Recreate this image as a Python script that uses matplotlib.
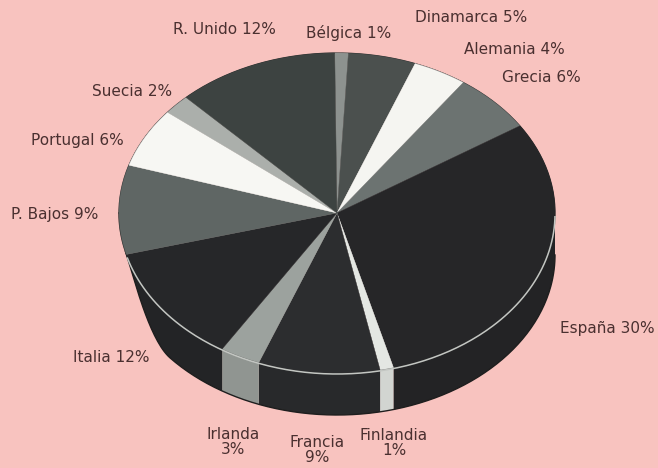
import numpy as np
import matplotlib
matplotlib.use("Agg")
import matplotlib.pyplot as plt
from matplotlib.patches import Polygon

# ---- data (clockwise from the top) ----
countries = ["Bélgica", "Dinamarca", "Alemania", "Grecia", "España", "Finlandia",
             "Francia", "Irlanda", "Italia", "P. Bajos", "Portugal", "Suecia", "R. Unido"]
shares = [1, 5, 4, 6, 30, 1, 9, 3, 12, 9, 6, 2, 12]
label_text = ["Bélgica 1%", "Dinamarca 5%", "Alemania 4%", "Grecia 6%", "España 30%",
              "Finlandia\n1%", "Francia\n9%", "Irlanda\n3%", "Italia 12%", "P. Bajos 9%",
              "Portugal 6%", "Suecia 2%", "R. Unido 12%"]

# ---- styles / layout ----
colors = ["#8d928f", "#4b504e", "#f5f5f1", "#6c7371", "#262628", "#e4e7e3",
          "#2c2d2f", "#9ca29e", "#262729", "#5f6664", "#f7f7f3", "#abafab", "#3d4341"]
label_pos = [(349, 33), (471, 18), (514, 50), (541, 78), (607, 328),
             (394, 443), (317, 450), (233, 442), (111, 357), (55, 214),
             (77, 140), (132, 91), (224, 29)]
bg = "#f8c3bf"
txt_col = "#4a3030"
cx, cy, rx, ry, depth = 337.0, 213.0, 218.0, 160.0, 42.0
start = 90.6

fig = plt.figure(figsize=(6.58, 4.68), dpi=100, facecolor=bg)
ax = fig.add_axes([0, 0, 1, 1])
ax.set_facecolor(bg)
ax.set_xlim(0, 658)
ax.set_ylim(468, 0)
ax.axis("off")

vals = np.array(shares, dtype=float)
ends = start - np.cumsum(vals) / vals.sum() * 360.0
begins = np.concatenate([[start], ends[:-1]])


def pt(t_deg, dy=0.0):
    t = np.radians(t_deg)
    return np.column_stack([cx + rx * np.cos(t), cy - ry * np.sin(t) + dy])


def wall(t_deg):
    # side-wall height; the wall fades out towards the far left edge
    u = np.clip((np.asarray(t_deg) + 166.0) / 26.0, 0, 1)
    return depth * u * u * (3 - 2 * u)


def darker(c, f=0.92):
    r, g, b = matplotlib.colors.to_rgb(c)
    return (r * f, g * f, b * f)

# side walls (front half: angles between -180 and 0)
for b, e, c in zip(begins, ends, colors):
    for shift in (0, -360, 360):
        lo, hi = e + shift, b + shift
        a0, a1 = max(lo, -180), min(hi, 0)
        if a1 > a0:
            ts = np.linspace(a0, a1, 60)
            top = pt(ts)
            tr = ts[::-1]
            bot = pt(tr)
            bot[:, 1] += wall(tr)
            ax.add_patch(Polygon(np.vstack([top, bot]), closed=True, facecolor=darker(c),
                                 edgecolor="none", zorder=2))

# outline of the side
ts = np.linspace(-180, 0, 240)
sb = pt(ts)
sb[:, 1] += wall(ts)
ax.plot(sb[:, 0], sb[:, 1], color="#1e1e1e", lw=1.0, zorder=3)

# top faces
for b, e, c in zip(begins, ends, colors):
    ts = np.linspace(b, e, max(8, int(abs(b - e) * 2)))
    poly = np.vstack([[cx, cy], pt(ts)])
    ax.add_patch(Polygon(poly, closed=True, facecolor=c, edgecolor=c, lw=0.3, zorder=4))

# rim line and outline of top
ts = np.linspace(-164, -1, 200)
ax.plot(pt(ts)[:, 0], pt(ts)[:, 1] + 1, color="#c3c6c2", lw=1.1, zorder=5)
ts = np.linspace(-166, 180, 300)
ax.plot(pt(ts)[:, 0], pt(ts)[:, 1], color="#2a2a2a", lw=0.9, zorder=3.5)

for (x, y), s in zip(label_pos, label_text):
    ax.text(x, y, s, ha="center", va="center", fontsize=11, color=txt_col,
            family="DejaVu Sans", linespacing=1.0, zorder=6)

fig.savefig("out.png", dpi=100, facecolor=bg)
